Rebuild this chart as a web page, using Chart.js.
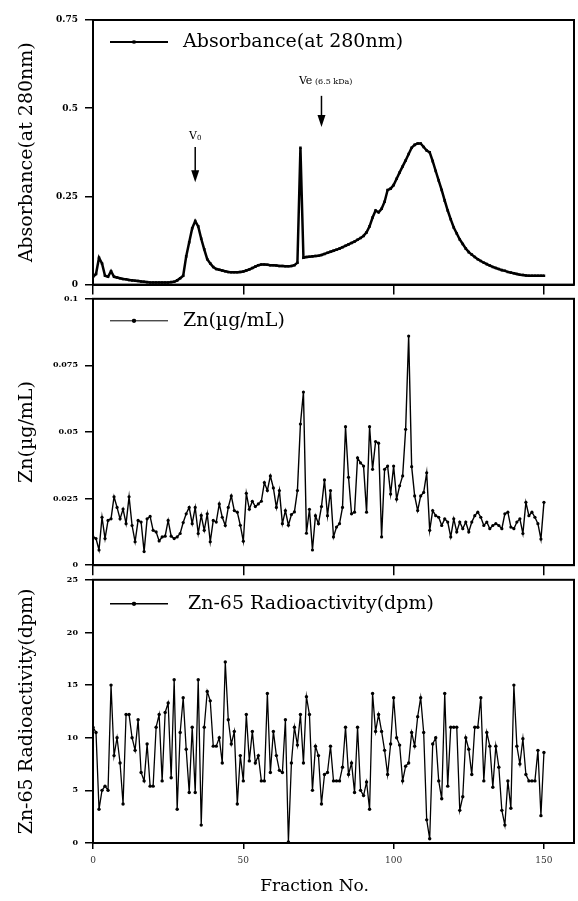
<!DOCTYPE html>
<html lang="en">
<head>
<meta charset="UTF-8">
<title>Fractionation profile</title>
<script src="https://cdn.jsdelivr.net/npm/chart.js@4.4.1/dist/chart.umd.min.js"></script>
<style>
  body { margin: 0; background: #fff; }
  #wrap { position: relative; width: 578px; height: 901px; }
  canvas { position: absolute; left: 0; }
</style>
</head>
<body>
<div id="wrap">
  <canvas id="absChart" width="578" height="297" style="top:0"></canvas>
  <canvas id="znChart" width="578" height="290" style="top:287px"></canvas>
  <canvas id="radChart" width="578" height="333" style="top:568px"></canvas>
</div>
<script>
// fraction numbers (categories)
const fractions = Array.from({length: 151}, (_, i) => i);

const absorbance = [
  0.022, 0.030, 0.076, 0.060, 0.025, 0.022, 0.038, 0.022, 0.020, 0.018,
  0.016, 0.015, 0.013, 0.012, 0.011, 0.010, 0.009, 0.008, 0.007, 0.006,
  0.006, 0.006, 0.006, 0.006, 0.006, 0.006, 0.007, 0.008, 0.012, 0.018,
  0.025, 0.080, 0.120, 0.160, 0.180, 0.165, 0.130, 0.100, 0.072, 0.060,
  0.050, 0.044, 0.042, 0.040, 0.038, 0.036, 0.035, 0.035, 0.035, 0.036,
  0.037, 0.040, 0.043, 0.047, 0.051, 0.055, 0.057, 0.057, 0.056, 0.055,
  0.055, 0.054, 0.053, 0.053, 0.052, 0.052, 0.053, 0.055, 0.062, 0.388,
  0.076, 0.078, 0.079, 0.080, 0.081, 0.082, 0.084, 0.087, 0.090, 0.093,
  0.096, 0.099, 0.102, 0.106, 0.110, 0.114, 0.118, 0.122, 0.127, 0.132,
  0.138, 0.148, 0.165, 0.190, 0.210, 0.205, 0.215, 0.235, 0.268, 0.272,
  0.282, 0.300, 0.318, 0.335, 0.352, 0.370, 0.388, 0.396, 0.400, 0.400,
  0.390, 0.380, 0.375, 0.350, 0.322, 0.295, 0.268, 0.238, 0.210, 0.185,
  0.162, 0.145, 0.128, 0.115, 0.102, 0.092, 0.085, 0.078, 0.072, 0.067,
  0.062, 0.058, 0.054, 0.050, 0.047, 0.044, 0.041, 0.039, 0.036, 0.034,
  0.032, 0.030, 0.028, 0.027, 0.026, 0.025, 0.025, 0.025, 0.025, 0.025,
  0.025
];

const zinc = [
  0.0106, 0.0100, 0.0057, 0.0180, 0.0100, 0.0168, 0.0174, 0.0257, 0.0217, 0.0174,
  0.0211, 0.0156, 0.0257, 0.0149, 0.0088, 0.0168, 0.0162, 0.0051, 0.0174, 0.0183,
  0.0131, 0.0125, 0.0091, 0.0106, 0.0109, 0.0168, 0.0109, 0.0100, 0.0106, 0.0119,
  0.0160, 0.0193, 0.0217, 0.0156, 0.0217, 0.0119, 0.0187, 0.0131, 0.0193, 0.0088,
  0.0168, 0.0162, 0.0230, 0.0180, 0.0149, 0.0217, 0.0260, 0.0205, 0.0199, 0.0150,
  0.0090, 0.0270, 0.0210, 0.0240, 0.0220, 0.0230, 0.0240, 0.0310, 0.0280, 0.0335,
  0.0290, 0.0217, 0.0280, 0.0156, 0.0205, 0.0150, 0.0190, 0.0200, 0.0280, 0.0530,
  0.0650, 0.0120, 0.0210, 0.0057, 0.0186, 0.0156, 0.0220, 0.0320, 0.0186, 0.0280,
  0.0106, 0.0143, 0.0156, 0.0217, 0.0520, 0.0330, 0.0193, 0.0199, 0.0403, 0.0384,
  0.0372, 0.0199, 0.0520, 0.0360, 0.0464, 0.0458, 0.0106, 0.0360, 0.0372, 0.0267,
  0.0372, 0.0248, 0.0298, 0.0335, 0.0510, 0.0860, 0.0370, 0.0260, 0.0205, 0.0260,
  0.0273, 0.0347, 0.0131, 0.0205, 0.0186, 0.0180, 0.0149, 0.0174, 0.0162, 0.0106,
  0.0174, 0.0125, 0.0162, 0.0137, 0.0162, 0.0125, 0.0162, 0.0186, 0.0199, 0.0180,
  0.0149, 0.0162, 0.0137, 0.0149, 0.0156, 0.0149, 0.0137, 0.0193, 0.0199, 0.0143,
  0.0137, 0.0162, 0.0174, 0.0119, 0.0236, 0.0186, 0.0199, 0.0180, 0.0156, 0.0098,
  0.0236
];

const radioactivity = [
  11.0, 10.5, 3.2, 5.0, 5.4, 5.0, 15.0, 8.3, 10.0, 7.6,
  3.7, 12.2, 12.2, 10.0, 8.8, 11.7, 6.7, 5.9, 9.4, 5.4,
  5.4, 11.0, 12.2, 5.9, 12.4, 13.3, 6.2, 15.5, 3.2, 10.5,
  13.8, 8.9, 4.8, 11.0, 4.8, 15.5, 1.7, 11.0, 14.4, 13.5,
  9.2, 9.2, 10.0, 7.6, 17.2, 11.7, 9.4, 10.6, 3.7, 8.3,
  5.9, 12.2, 7.8, 10.6, 7.6, 8.3, 5.9, 5.9, 14.2, 6.7,
  10.6, 8.3, 6.9, 6.7, 11.7, 0.1, 7.6, 11.0, 9.3, 12.2,
  7.6, 13.9, 12.2, 5.0, 9.2, 8.3, 3.7, 6.5, 6.7, 9.2,
  5.9, 5.9, 5.9, 7.2, 11.0, 6.5, 7.6, 4.8, 11.0, 5.0,
  4.5, 5.8, 3.2, 14.2, 10.6, 12.2, 10.6, 8.8, 6.5, 9.4,
  13.8, 10.0, 9.3, 5.9, 7.3, 7.6, 10.5, 9.2, 12.0, 13.8,
  10.5, 2.2, 0.4, 9.4, 10.0, 5.9, 4.2, 14.2, 5.4, 11.0,
  11.0, 11.0, 3.1, 4.4, 10.0, 8.9, 6.5, 11.0, 11.0, 13.8,
  5.9, 10.5, 9.2, 5.3, 9.2, 7.2, 3.1, 1.7, 5.9, 3.3,
  15.0, 9.2, 7.5, 9.9, 6.5, 5.9, 5.9, 5.9, 8.8, 2.6,
  8.6
];

// tick labels
const xTicks = [0, 50, 100, 150];
const absTicks = [0, 0.25, 0.5, 0.75];
const znTicks = [0, 0.025, 0.05, 0.075, 0.1];
const radTicks = [0, 5, 10, 15, 20, 25];

// elution markers on the absorbance panel (fraction / absorbance units)
const elutionMarks = [
  {main: 'V', small: '0', fraction: 34, textFraction: 34, textAt: 0.425, from: 0.39, to: 0.29, align: 'center'},
  {main: 'Ve', small: ' (6.5 kDa)', fraction: 76, textFraction: 68.5, textAt: 0.58, from: 0.535, to: 0.447, align: 'left'}
];

const SERIF = '"DejaVu Serif", "Liberation Serif", serif';

// box round the plot area
const frameBox = {
  id: 'frameBox',
  afterDraw(chart) {
    const {ctx, chartArea: a} = chart;
    ctx.save();
    ctx.strokeStyle = '#000';
    ctx.lineWidth = 2;
    ctx.strokeRect(a.left, a.top, a.right - a.left, a.bottom - a.top);
    ctx.restore();
  }
};

// legend drawn inside the plot: line, marker, label
const lineLegend = {
  id: 'lineLegend',
  afterDraw(chart, args, opts) {
    const {ctx, chartArea: a} = chart;
    const ds = chart.data.datasets[0];
    const y = a.top + opts.dy;
    const x0 = a.left + 17, x1 = a.left + 75;
    ctx.save();
    ctx.strokeStyle = '#000';
    ctx.lineWidth = opts.lineWidth;
    ctx.beginPath();
    ctx.moveTo(x0, y);
    ctx.lineTo(x1, y);
    ctx.stroke();
    ctx.fillStyle = '#000';
    Chart.helpers.drawPoint(ctx, {pointStyle: ds.pointStyle, radius: 2, borderWidth: 0, rotation: 0}, (x0 + x1) / 2 - 5, y);
    ctx.fill();
    ctx.font = '19px ' + SERIF;
    ctx.textBaseline = 'middle';
    ctx.textAlign = 'left';
    ctx.fillText(ds.label, a.left + opts.dx, y);
    ctx.restore();
  }
};

const arrows = {
  id: 'arrows',
  afterDraw(chart, args, opts) {
    if (!opts.marks) return;
    const {ctx, scales: {x, y}} = chart;
    ctx.save();
    ctx.fillStyle = '#000';
    ctx.strokeStyle = '#000';
    opts.marks.forEach(m => {
      const px = x.getPixelForValue(m.fraction);
      const yFrom = y.getPixelForValue(m.from);
      const yTo = y.getPixelForValue(m.to);
      ctx.lineWidth = 1.5;
      ctx.beginPath();
      ctx.moveTo(px, yFrom);
      ctx.lineTo(px, yTo - 10);
      ctx.stroke();
      ctx.beginPath();
      ctx.moveTo(px - 4, yTo - 12);
      ctx.lineTo(px + 4, yTo - 12);
      ctx.lineTo(px, yTo);
      ctx.closePath();
      ctx.fill();

      const ty = y.getPixelForValue(m.textAt);
      const smallSize = m.align === 'center' ? 7 : 8;
      ctx.font = '11px ' + SERIF;
      const w1 = ctx.measureText(m.main).width;
      ctx.font = smallSize + 'px ' + SERIF;
      const w2 = ctx.measureText(m.small).width;
      let tx = x.getPixelForValue(m.textFraction);
      if (m.align === 'center') tx -= (w1 + w2) / 2;
      ctx.textBaseline = 'alphabetic';
      ctx.textAlign = 'left';
      ctx.font = '11px ' + SERIF;
      ctx.fillText(m.main, tx, ty + 4);
      ctx.font = smallSize + 'px ' + SERIF;
      ctx.fillText(m.small, tx + w1, ty + 4 + (m.align === 'center' ? 1 : 0));
    });
    ctx.restore();
  }
};

function makePanel(id, cfg) {
  const ctx = document.getElementById(id).getContext('2d');
  return new Chart(ctx, {
    type: 'line',
    data: {
      datasets: [{
        label: cfg.label,
        data: fractions.map((f, i) => ({x: f, y: cfg.values[i]})),
        borderColor: '#000',
        backgroundColor: '#000',
        borderWidth: cfg.lineWidth,
        pointStyle: cfg.pointStyle,
        pointRadius: cfg.pointRadius,
        pointBorderWidth: 0,
        pointBackgroundColor: '#000',
        tension: 0,
        fill: false
      }]
    },
    options: {
      responsive: false,
      animation: false,
      devicePixelRatio: 1,
      layout: {padding: {top: cfg.padTop, right: 1, left: 0, bottom: 0}},
      plugins: {
        legend: {display: false},
        tooltip: {enabled: false},
        lineLegend: {dy: cfg.legendDy, dx: cfg.legendDx, lineWidth: cfg.legendLine},
        arrows: {marks: cfg.marks}
      },
      scales: {
        x: {
          type: 'linear',
          min: 0,
          max: 160,
          afterBuildTicks: s => { s.ticks = xTicks.map(v => ({value: v})); },
          afterFit: s => { s.height = cfg.xHeight; },
          grid: {drawOnChartArea: false, drawTicks: true, tickLength: cfg.xTickLength, color: '#000', lineWidth: 1.5},
          border: {color: '#000', width: 2},
          ticks: {
            display: cfg.showX,
            padding: 6,
            color: '#333',
            font: {family: SERIF, size: 9},
            maxRotation: 0,
            callback: v => String(v)
          },
          title: {
            display: cfg.showX,
            text: 'Fraction No.\u00a0\u00a0\u00a0\u00a0\u00a0\u00a0\u00a0',
            color: '#000',
            font: {family: SERIF, size: 17},
            padding: {top: 0, bottom: 4}
          }
        },
        y: {
          type: 'linear',
          min: 0,
          max: cfg.yMax,
          afterBuildTicks: s => { s.ticks = cfg.yTicks.map(v => ({value: v})); },
          afterFit: s => { s.width = 93; },
          grid: {drawOnChartArea: false, drawTicks: true, tickLength: 8, color: '#000', lineWidth: 1.5},
          border: {color: '#000', width: 2},
          ticks: {
            padding: 7,
            color: '#000',
            font: {family: SERIF, size: cfg.yTickSize, weight: 'bold'},
            callback: v => String(v)
          },
          title: {
            display: true,
            text: cfg.label,
            color: '#000',
            font: {family: SERIF, size: 19},
            padding: {top: 16, bottom: 0}
          }
        }
      }
    },
    plugins: [frameBox, lineLegend, arrows]
  });
}

makePanel('absChart', {
  label: 'Absorbance(at 280nm)', values: absorbance, yMax: 0.75, yTicks: absTicks,
  lineWidth: 2.5, pointStyle: 'rect', pointRadius: 1.8, legendLine: 2, legendDy: 22, legendDx: 90,
  padTop: 20, xHeight: 10, xTickLength: 10, showX: false, yTickSize: 9, marks: elutionMarks
});

makePanel('znChart', {
  label: 'Zn(µg/mL)', values: zinc, yMax: 0.1, yTicks: znTicks,
  lineWidth: 1.4, pointStyle: 'circle', pointRadius: 1.6, legendLine: 1, legendDy: 22, legendDx: 90,
  padTop: 10, xHeight: 10, xTickLength: 10, showX: false, yTickSize: 8, marks: null
});

makePanel('radChart', {
  label: 'Zn-65 Radioactivity(dpm)', values: radioactivity, yMax: 25, yTicks: radTicks,
  lineWidth: 1.3, pointStyle: 'circle', pointRadius: 1.7, legendLine: 1.5, legendDy: 24, legendDx: 95,
  padTop: 10, xHeight: 58, xTickLength: 6, showX: true, yTickSize: 8, marks: null
});
</script>
</body>
</html>
